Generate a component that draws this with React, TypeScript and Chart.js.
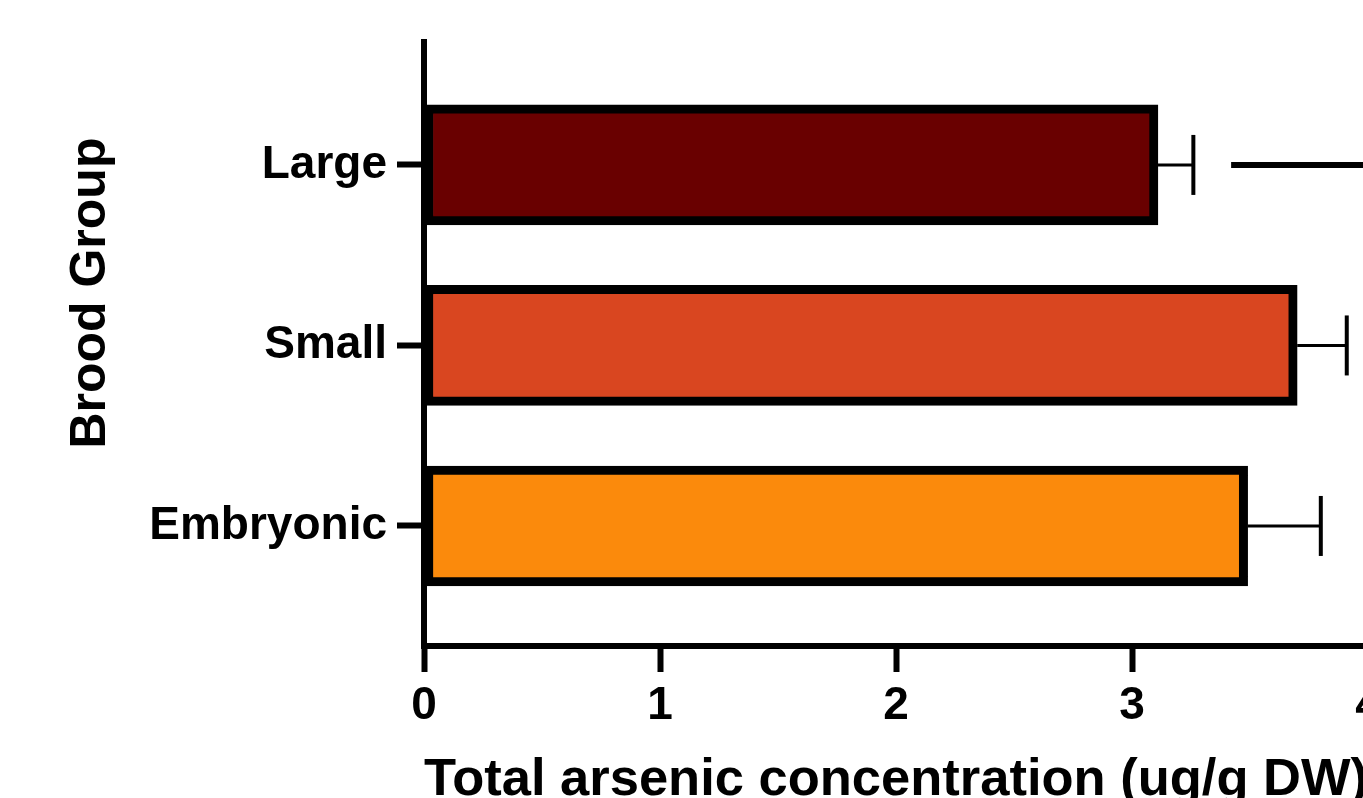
import React, { useEffect, useRef } from "react";
import { Chart, registerables } from "chart.js";

Chart.register(...registerables);

const categories = ["Embryonic", "Small", "Large"];
const positions = [1, 2, 3];
const values = [3.49, 3.7, 3.11];
const errors = [0.31, 0.21, 0.15];
const colors = ["#FB8A0C", "#D94620", "#690000"];
const xTicks = [0, 1, 2, 3, 4];
const bracketX = [3.42, 4.6];
const bracketY = 3;
const xTitle = "Total arsenic concentration (ug/g DW)";
const yTitle = "Brood Group";

const FONT = "'Liberation Sans', Arial, Helvetica, sans-serif";

export default function App() {
  const ref = useRef<HTMLCanvasElement | null>(null);

  useEffect(() => {
    if (!ref.current) return;

    const errorBars = {
      id: "errorBars",
      afterDatasetsDraw(chart: any) {
        const xs = chart.scales.x;
        const ys = chart.scales.y;
        const ctx = chart.ctx;
        ctx.save();
        ctx.strokeStyle = "#000";
        for (let i = 0; i < values.length; i++) {
          const x0 = xs.getPixelForValue(values[i]);
          const x1 = xs.getPixelForValue(values[i] + errors[i]);
          const y = ys.getPixelForValue(positions[i]);
          ctx.lineWidth = 3;
          ctx.beginPath();
          ctx.moveTo(x0, y);
          ctx.lineTo(x1, y);
          ctx.stroke();
          ctx.lineWidth = 4;
          ctx.beginPath();
          ctx.moveTo(x1, y - 30);
          ctx.lineTo(x1, y + 30);
          ctx.stroke();
        }
        ctx.restore();
      },
    };

    const titles = {
      id: "titles",
      afterDraw(chart: any) {
        const ctx = chart.ctx;
        const ca = chart.chartArea;
        const ys = chart.scales.y;
        ctx.save();
        ctx.fillStyle = "#000";
        ctx.font = `bold 52.5px ${FONT}`;
        ctx.textAlign = "center";
        ctx.textBaseline = "alphabetic";
        ctx.fillText(xTitle, (ca.left + ca.right) / 2, 795);
        ctx.font = `bold 50px ${FONT}`;
        const cy = ys.getPixelForValue(2.29);
        ctx.translate(105, cy);
        ctx.rotate(-Math.PI / 2);
        ctx.fillText(yTitle, 0, 0);
        ctx.restore();
      },
    };

    const chart = new Chart(ref.current, {
      type: "bar",
      data: {
        datasets: [
          {
            type: "bar",
            data: positions.map((p, i) => ({ x: values[i], y: p })),
            backgroundColor: colors,
            borderColor: "#000",
            borderWidth: 9,
            borderSkipped: false,
            barThickness: 120,
          } as any,
          {
            type: "line",
            data: bracketX.map((x) => ({ x, y: bracketY })),
            borderColor: "#000",
            borderWidth: 6,
            pointRadius: 0,
            fill: false,
          } as any,
        ],
      },
      options: {
        indexAxis: "y",
        responsive: false,
        animation: false,
        devicePixelRatio: 1,
        layout: { padding: { left: 0, top: 42, right: 52, bottom: 0 } },
        plugins: {
          legend: { display: false },
          tooltip: { enabled: false },
        },
        scales: {
          x: {
            type: "linear",
            min: 0,
            max: 4,
            offset: false,
            afterFit: (s: any) => {
              s.height = 194;
            },
            afterBuildTicks: (s: any) => {
              s.ticks = xTicks.map((v) => ({ value: v }));
            },
            grid: {
              offset: false,
              drawOnChartArea: false,
              drawTicks: true,
              tickLength: 26,
              tickWidth: 6,
              tickColor: "#000",
            },
            border: { display: true, color: "#000", width: 6 },
            ticks: {
              color: "#000",
              padding: 7,
              maxRotation: 0,
              font: { family: FONT, size: 46, weight: "bold" },
            },
          },
          y: {
            type: "linear",
            min: 0.335,
            max: 3.681,
            offset: false,
            afterFit: (s: any) => {
              s.width = 424;
            },
            afterBuildTicks: (s: any) => {
              s.ticks = positions.map((v) => ({ value: v }));
            },
            grid: {
              offset: false,
              drawOnChartArea: false,
              drawTicks: true,
              tickLength: 27,
              tickWidth: 6,
              tickColor: "#000",
            },
            border: { display: true, color: "#000", width: 6 },
            ticks: {
              color: "#000",
              padding: 10,
              font: { family: FONT, size: 46, weight: "bold" },
              callback: (v: any) => {
                const idx = positions.indexOf(Number(v));
                return idx >= 0 ? categories[idx] : "";
              },
            },
          },
        },
      },
      plugins: [errorBars, titles],
    } as any);

    return () => chart.destroy();
  }, []);

  return (
    <div
      style={{
        position: "fixed",
        left: 0,
        top: 0,
        width: 1363,
        height: 798,
        overflow: "hidden",
        background: "#fff",
      }}
    >
      <canvas ref={ref} width={1420} height={840} style={{ display: "block" }} />
    </div>
  );
}
